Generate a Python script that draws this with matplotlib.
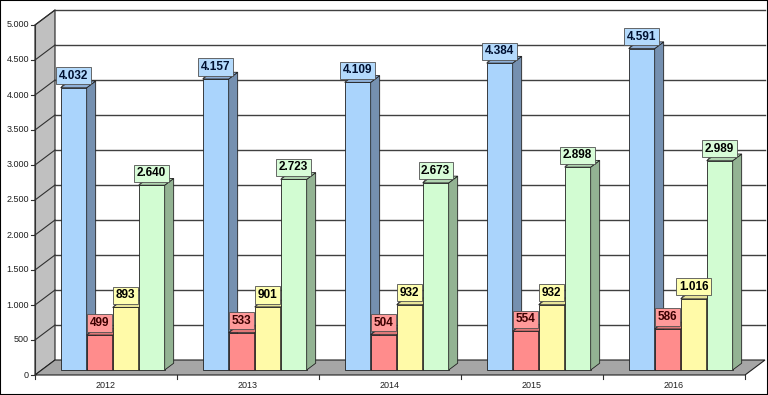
import matplotlib
matplotlib.use("Agg")
import matplotlib.pyplot as plt
from matplotlib.patches import Polygon, Rectangle

plt.rcParams['font.family'] = ['Liberation Sans', 'DejaVu Sans']

# data
years = ['2012', '2013', '2014', '2015', '2016']
blue = [4032, 4157, 4109, 4384, 4591]
red = [499, 533, 504, 554, 586]
yellow = [893, 901, 932, 932, 1016]
green = [2640, 2723, 2673, 2898, 2989]
series = [blue, red, yellow, green]
y_ticks = list(range(0, 5001, 500))

# colours: front, side, top, label box, label text
styles = [
    ('#aad4fc', '#7590b0', '#8fb0d8', '#b4dafc', '#001030'),
    ('#ff8c8c', '#c06a6a', '#e07878', '#ff9a9a', '#3a0000'),
    ('#fffaa8', '#c8c48a', '#e8e498', '#ffffb0', '#000000'),
    ('#d2fcd2', '#93b393', '#b0d4b0', '#d8fcd8', '#000000'),
]

def fmt(v):
    return '{:,}'.format(v).replace(',', '.')

# pixel geometry of the pseudo 3d box
W, H = 768, 395
CAT_PX = 142.0
VAL_PX = 35.0 / 500
X0_PX, Y0_PX = 35.0, 375.0
ddx = 20.0 / CAT_PX          # full depth, x (category units)
ddy = 15.0 / VAL_PX          # full depth, y (value units)
px = 1.0 / VAL_PX            # one pixel in value units
pxx = 1.0 / CAT_PX           # one pixel in category units
f0 = 1.0 / 3                 # bar front plane depth
bd = 0.45                    # bar depth
w = 26.0 / CAT_PX            # bar width
n = len(years)
ymax = y_ticks[-1]

fig = plt.figure(figsize=(W / 100, H / 100), dpi=100)
ax = fig.add_axes([0, 0, 1, 1])
ax.set_xlim(-X0_PX / CAT_PX - 0.5, (W - X0_PX) / CAT_PX - 0.5)
ax.set_ylim(-(H - Y0_PX) * px, Y0_PX * px)
ax.axis('off')

xl, xr = -0.5, n - 0.5
edge = '#202020'

# back wall, left wall, floor
ax.add_patch(Polygon([(xl + ddx, ddy), (xr + ddx, ddy), (xr + ddx, ymax + ddy), (xl + ddx, ymax + ddy)],
                     closed=True, facecolor='white', edgecolor='none', zorder=1))
ax.add_patch(Polygon([(xl, 0), (xl + ddx, ddy), (xl + ddx, ymax + ddy), (xl, ymax)],
                     closed=True, facecolor='#c0c0c0', edgecolor=edge, lw=0.8, zorder=1))
ax.add_patch(Polygon([(xl, 0), (xr, 0), (xr + ddx, ddy), (xl + ddx, ddy)],
                     closed=True, facecolor='#a6a6a6', edgecolor=edge, lw=0.8, zorder=2))

for t in y_ticks:
    if t > 0:
        ax.plot([xl + ddx, xr + ddx], [t + ddy, t + ddy], color='#404040', lw=1.0, zorder=1.5)
        ax.plot([xl, xl + ddx], [t, t + ddy], color='#303030', lw=0.8, zorder=1.5)
    ax.plot([xl - 4 * pxx, xl], [t, t], color='#303030', lw=0.8, zorder=3)
    ax.text(xl - 6 * pxx, t, fmt(t), ha='right', va='center', fontsize=6.5, color='#202020')

ax.plot([xl, xl], [0, ymax], color='#303030', lw=0.8, zorder=3)
for k in range(n + 1):
    ax.plot([xl + k, xl + k], [0, -4 * px], color='#303030', lw=0.8, zorder=3)
for i, yr in enumerate(years):
    ax.text(i, -10.5 * px, yr, ha='center', va='center', fontsize=6.5, color='#202020')

# bars
base = f0 * ddy
for i in range(n):
    for j, vals in enumerate(series):
        front, side, top_c, box_c, txt_c = styles[j]
        v = vals[i]
        x = i - 2 * w + j * w + f0 * ddx
        top = base + v
        z = 4 + i * 0.1 + j * 0.01
        ax.add_patch(Rectangle((x, base), w, v, facecolor=front, edgecolor=edge, lw=0.6, zorder=z))
        ax.add_patch(Polygon([(x + w, base), (x + w, top), (x + w + bd * ddx, top + bd * ddy),
                              (x + w + bd * ddx, base + bd * ddy)],
                             closed=True, facecolor=side, edgecolor=edge, lw=0.6, zorder=z))
        ax.add_patch(Polygon([(x, top), (x + w, top), (x + w + bd * ddx, top + bd * ddy),
                              (x + bd * ddx, top + bd * ddy)],
                             closed=True, facecolor=top_c, edgecolor=edge, lw=0.6, zorder=z))

# value labels
for i in range(n):
    for j, vals in enumerate(series):
        front, side, top_c, box_c, txt_c = styles[j]
        v = vals[i]
        x = i - 2 * w + j * w + f0 * ddx
        top = base + v
        ax.plot([x + 1 * pxx, x + 4 * pxx], [top + 1 * px, top + 5 * px], color='#404040', lw=0.6, zorder=9)
        ax.text(x + w / 2, top + 12 * px, fmt(v), ha='center', va='center', fontsize=8.5,
                fontweight='bold', color=txt_c, zorder=10,
                bbox=dict(boxstyle='square,pad=0.22', facecolor=box_c, edgecolor='#505050', lw=0.6))

fig.patches.append(Rectangle((0, 0), 1, 1, transform=fig.transFigure, fill=False,
                             edgecolor='black', lw=1.5))

fig.savefig('out.png', dpi=100)
